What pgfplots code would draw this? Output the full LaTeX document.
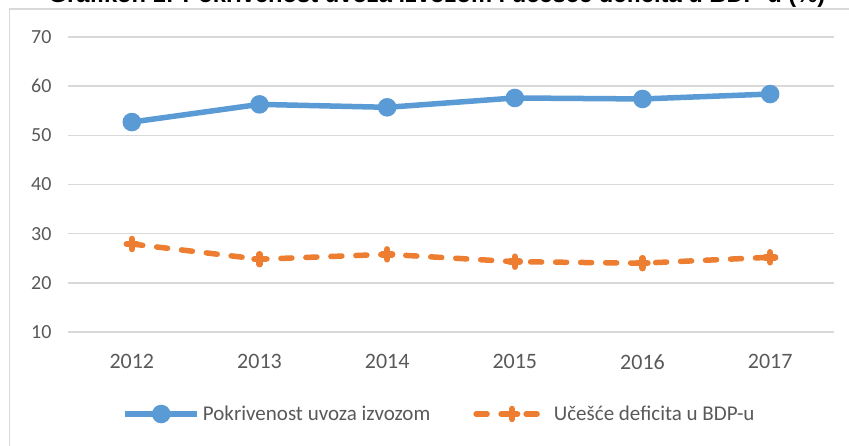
\documentclass[border=0pt]{standalone}
\usepackage{fontspec}
\setmainfont{Carlito}
\newfontfamily\titlefont{Liberation Sans}
\usepackage{pgfplots}
\pgfplotsset{compat=1.18}
\definecolor{cblue}{HTML}{5B9BD5}
\definecolor{corange}{HTML}{ED7D31}
\definecolor{cgrid}{HTML}{D9D9D9}
\definecolor{ctext}{HTML}{595959}
\begin{document}
\begin{tikzpicture}
\node[anchor=base, font=\titlefont\fontsize{23.7}{28}\selectfont\bfseries] at (437pt,442.5pt) {Grafikon 1: Pokrivenost uvoza izvozom i učešće deficita u BDP-u (\%)};
\draw[cgrid, line width=1.5pt] (9.5pt,-20pt) -- (9.5pt,436pt) -- (870pt,436pt);
\begin{axis}[
  at={(68pt,113pt)}, anchor=south west,
  scale only axis, width=766pt, height=295pt,
  xmin=-0.5, xmax=5.5, ymin=10, ymax=70,
  xtick={0,1,2,3,4,5},
  xticklabels={2012,2013,2014,2015,2016,2017},
  ytick={10,20,30,40,50,60,70},
  ymajorgrids, major grid style={cgrid, line width=1.5pt},
  axis line style={draw=none},
  major tick length=0pt,
  /pgf/number format/assume math mode=true,
  yticklabel style={font=\fontsize{20}{24}\selectfont, text=ctext, anchor=east, xshift=-13pt},
  xticklabel style={font=\fontsize{22}{26}\selectfont, text=ctext, anchor=north, yshift=-19pt},
  clip=false,
  legend columns=2,
  legend style={at={(0.4856,-0.278)}, anchor=center, draw=none, fill=none,
    font=\fontsize{21}{25}\selectfont, text=ctext,
    /tikz/every even column/.append style={column sep=40pt},
    inner sep=0pt, nodes={inner sep=3pt}},
  legend image code/.code={\draw[mark repeat=2, mark phase=2, #1] plot coordinates {(0pt,0pt) (36pt,0pt) (72pt,0pt)};},
]
\addplot[cblue, line width=5.5pt, mark=*, mark size=6.5pt, mark options={solid}] coordinates {
(0,52.7) (1,56.3) (2,55.7) (3,57.6) (4,57.4) (5,58.4)};
\addlegendentry{Pokrivenost uvoza izvozom}
\addplot[corange, line width=5.5pt, line cap=round, dash pattern=on 11pt off 14pt, mark=+, mark size=5pt, mark options={solid, line width=6.5pt}] coordinates {
(0,27.9) (1,24.8) (2,25.8) (3,24.3) (4,24.0) (5,25.2)};
\addlegendentry{Učešće deficita u BDP-u}
\end{axis}
\pgfresetboundingbox
\useasboundingbox (0,0) rectangle (849pt,445pt);
\end{tikzpicture}
\end{document}
